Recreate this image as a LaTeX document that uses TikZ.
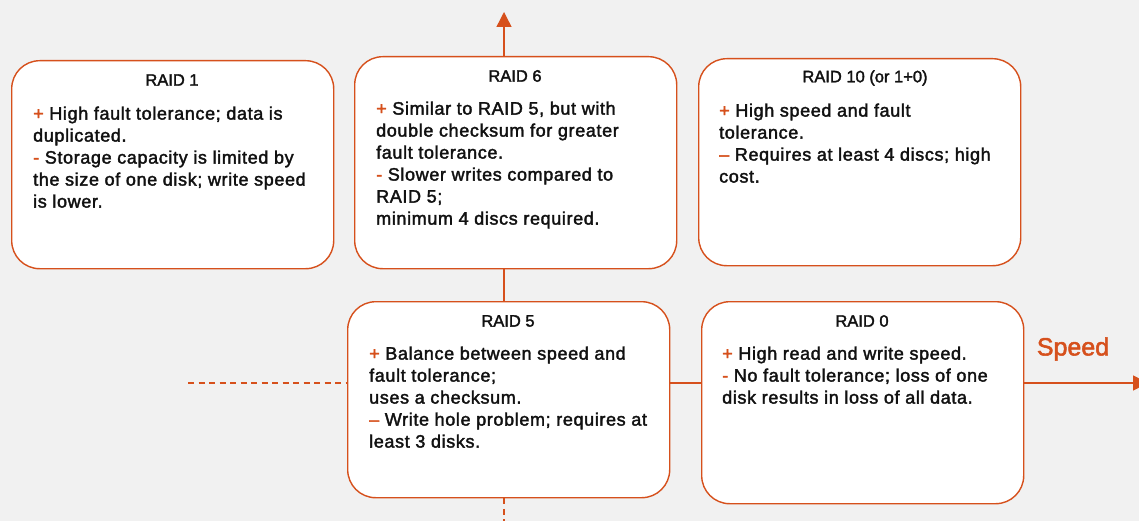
\documentclass[tikz,border=0pt]{standalone}
\usepackage{fontspec}
\setmainfont{Liberation Sans}
\newfontfamily\bodyfont[FakeBold=2, LetterSpace=3.5]{Liberation Sans}
\newfontfamily\headfont[FakeBold=2]{Liberation Sans}
\usetikzlibrary{arrows.meta}

\definecolor{accent}{RGB}{214,80,28}
\definecolor{paper}{RGB}{241,241,241}
\definecolor{ink}{RGB}{17,17,17}

\newcommand{\pluss}{\textcolor{accent}{+}}
\newcommand{\minuss}{\textcolor{accent}{-}}
\newcommand{\ndash}{\textcolor{accent}{–}}

\tikzset{
  card/.style={draw=accent, line width=1.4pt, fill=white, rounded corners=28pt,
               rectangle, anchor=north west, inner sep=0pt},
  cardtitle/.style={font=\headfont\fontsize{16.5}{20}\selectfont, text=ink, inner sep=0pt},
  cardbody/.style={font=\bodyfont\fontsize{18}{22}\selectfont, text=ink, align=left,
                   anchor=north west, inner sep=0pt},
  axis/.style={draw=accent, line width=1.4pt},
  axisdash/.style={axis, dash pattern=on 6pt off 4.5pt},
  axisarrow/.style={axis, -{Triangle[width=15pt,length=15pt]}}
}

\begin{document}
\begin{tikzpicture}[x=1pt, y=-1pt]
  % canvas
  \fill[paper] (0,0) rectangle (1139,521);
  \useasboundingbox (0,0) rectangle (1139,521);

  % axis end points
  \coordinate (up)    at (504,12);
  \coordinate (down)  at (504,521);
  \coordinate (west)  at (188,383);
  \coordinate (east)  at (1148,383);

  % cards
  \node[card, minimum width=322pt, minimum height=208pt] (r1)  at (11,60)   {};
  \node[card, minimum width=322pt, minimum height=212pt] (r6)  at (354,56)  {};
  \node[card, minimum width=322pt, minimum height=207pt] (r10) at (698,58)  {};
  \node[card, minimum width=322pt, minimum height=196pt] (r5)  at (347,301) {};
  \node[card, minimum width=322pt, minimum height=202pt] (r0)  at (701,301) {};

  % axes
  \draw[axisarrow] (up |- r6.north) -- (up);
  \draw[axis] (up |- r6.south) -- (up |- r5.north);
  \draw[axisdash] (up |- r5.south) -- (down);
  \draw[axisdash] (west) -- (west -| r5.west);
  \draw[axis] (west -| r5.east) -- (west -| r0.west);
  \draw[axisarrow] (west -| r0.east) -- (east);
  \node[font=\headfont\fontsize{25}{28}\selectfont, text=accent, inner sep=0pt] (speed) at (1073,349) {Speed};

  % titles
  \node[cardtitle] (t1)  at (172,80)  {RAID 1};
  \node[cardtitle] (t6)  at (515,76)  {RAID 6};
  \node[cardtitle] (t10) at (865,78)  {RAID 10 (or 1+0)};
  \node[cardtitle] (t5)  at (508,321) {RAID 5};
  \node[cardtitle] (t0)  at (862,321) {RAID 0};

  % descriptions
  \node[cardbody] (b1) at (33,104) {\strut\pluss{} High fault tolerance; data is\\
    duplicated.\\
    \minuss{} Storage capacity is limited by\\
    the size of one disk; write speed\\
    is lower.};
  \node[cardbody] (b6) at (376,99) {\strut\pluss{} Similar to RAID 5, but with\\
    double checksum for greater\\
    fault tolerance.\\
    \minuss{} Slower writes compared to\\
    RAID 5;\\
    minimum 4 discs required.};
  \node[cardbody] (b10) at (719,101) {\strut\pluss{} High speed and fault\\
    tolerance.\\
    \ndash{} Requires at least 4 discs; high\\
    cost.};
  \node[cardbody] (b5) at (369,344) {\strut\pluss{} Balance between speed and\\
    fault tolerance;\\
    uses a checksum.\\
    \ndash{} Write hole problem; requires at\\
    least 3 disks.};
  \node[cardbody] (b0) at (722,344) {\strut\pluss{} High read and write speed.\\
    \minuss{} No fault tolerance; loss of one\\
    disk results in loss of all data.};
\end{tikzpicture}
\end{document}
